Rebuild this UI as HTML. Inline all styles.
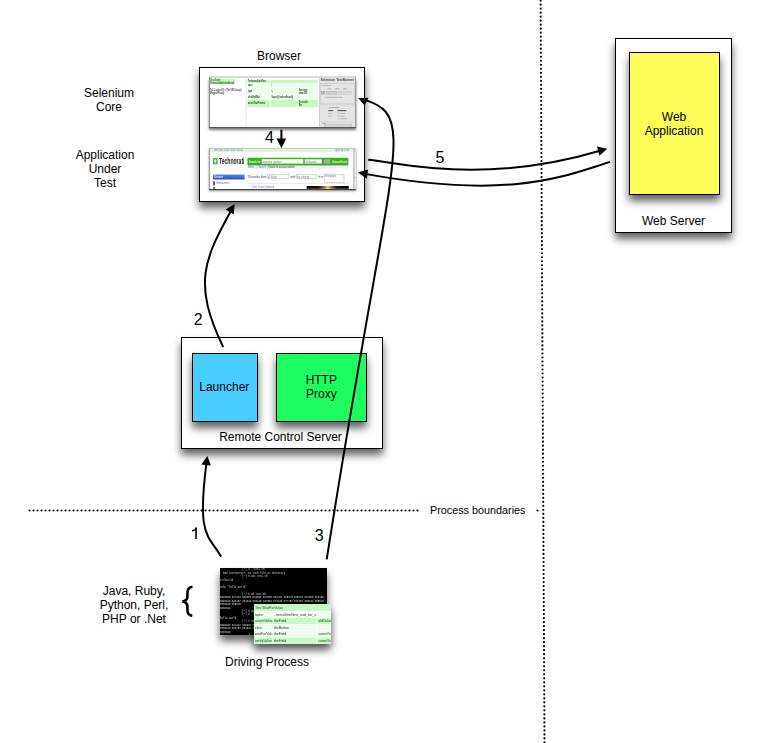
<!DOCTYPE html>
<html><head><meta charset="utf-8">
<style>
html,body{margin:0;padding:0;background:#fff;}
body{width:773px;height:743px;position:relative;overflow:hidden;font-family:"Liberation Sans",sans-serif;color:#000;}
.a{position:absolute;}
.box{position:absolute;box-sizing:border-box;border:1px solid #000;background:#fff;box-shadow:0 5.5px 8px rgba(0,0,0,0.62);}
.t{position:absolute;font-size:12px;line-height:14px;text-align:center;white-space:nowrap;}
.num{position:absolute;font-size:16px;line-height:16px;white-space:nowrap;}
.ss div{position:absolute;}
#tbl div{position:absolute;} #tbl div div{overflow:hidden;}
.tx{height:1.2px;background:#7a8a78;}
</style></head>
<body>

<!-- Browser -->
<div class="t" style="left:239px;top:49px;width:80px;">Browser</div>
<div class="box" style="left:199px;top:67px;width:166px;height:135px;"></div>

<!-- top screenshot: selenium core -->
<div class="a ss" id="ss1" style="left:209px;top:77.6px;width:147px;height:50.4px;background:#fff;box-shadow:0 1.5px 2.5px rgba(0,0,0,0.55);filter:blur(0.5px);">
<svg style="position:absolute;left:0;top:0;" width="147" height="50.4" viewBox="0 0 490 168" font-family="Liberation Sans, sans-serif">
<rect x="2.3" y="2.3" width="84.0" height="19.0" fill="#c8f8c0" />
<text x="4.0" y="10.0" font-size="9.0" font-weight="bold" fill="#2a4a20"  textLength="34" lengthAdjust="spacingAndGlyphs">Test Suite</text>
<text x="4.0" y="19.5" font-size="9.0" font-weight="bold" fill="#2a4a20"  textLength="80" lengthAdjust="spacingAndGlyphs">TechnoratiSiteLinksSearch</text>
<text x="2.5" y="42.0" font-size="9.0" font-weight="bold" fill="#444"  textLength="106" lengthAdjust="spacingAndGlyphs">TxC: Loglevel(1) = (The URL/Jscript)</text>
<text x="2.5" y="54.0" font-size="9.0" font-weight="bold" fill="#444"  textLength="48" lengthAdjust="spacingAndGlyphs">MagpieProxy</text>
<rect x="121.7" y="0.0" width="5.0" height="170.0" fill="#ececec" />
<rect x="128.0" y="6.3" width="234.7" height="10.4" fill="#c8f8c0" />
<text x="130.0" y="14.5" font-size="9.0" font-weight="bold" fill="#2a3a28"  textLength="59" lengthAdjust="spacingAndGlyphs">TechnoratiLinkTest</text>
<rect x="128.0" y="17.7" width="75.3" height="14.0" fill="#eefcee" />
<text x="130.0" y="27.7" font-size="9.0" font-weight="bold" fill="#2a3a28"  textLength="14" lengthAdjust="spacingAndGlyphs">open</text>
<rect x="206.0" y="17.7" width="89.0" height="14.0" fill="#eefcee" />
<text x="208.0" y="27.7" font-size="9.0" font-weight="bold" fill="#2a3a28"  textLength="2" lengthAdjust="spacingAndGlyphs">/</text>
<rect x="297.7" y="17.7" width="65.0" height="14.0" fill="#eefcee" />
<rect x="128.0" y="32.7" width="75.3" height="24.0" fill="#eefcee" />
<text x="130.0" y="47.7" font-size="9.0" font-weight="bold" fill="#2a3a28"  textLength="14" lengthAdjust="spacingAndGlyphs">type</text>
<rect x="206.0" y="32.7" width="89.0" height="24.0" fill="#eefcee" />
<text x="208.0" y="47.7" font-size="9.0" font-weight="bold" fill="#2a3a28"  textLength="3" lengthAdjust="spacingAndGlyphs">q</text>
<rect x="297.7" y="32.7" width="65.0" height="24.0" fill="#eefcee" />
<text x="299.7" y="41.7" font-size="9.0" font-weight="bold" fill="#2a3a28"  textLength="28" lengthAdjust="spacingAndGlyphs">Sun:name</text>
<text x="299.7" y="51.7" font-size="9.0" font-weight="bold" fill="#2a3a28"  textLength="28" lengthAdjust="spacingAndGlyphs">show:5X5</text>
<rect x="128.0" y="57.7" width="50.0" height="14.0" fill="#eefcee" />
<text x="130.0" y="67.7" font-size="9.0" font-weight="bold" fill="#2a3a28"  textLength="40" lengthAdjust="spacingAndGlyphs">clickAndWait</text>
<rect x="180.0" y="57.7" width="23.3" height="14.0" fill="#fff" />
<rect x="206.0" y="57.7" width="89.0" height="14.0" fill="#eefcee" />
<text x="208.0" y="67.7" font-size="9.0" font-weight="bold" fill="#2a3a28"  textLength="73" lengthAdjust="spacingAndGlyphs">//input[@value=Search]</text>
<rect x="297.7" y="57.7" width="65.0" height="14.0" fill="#eefcee" />
<rect x="128.0" y="72.7" width="75.3" height="24.6" fill="#c8f8c0" />
<text x="130.0" y="88.0" font-size="9.0" font-weight="bold" fill="#2a3a28"  textLength="57" lengthAdjust="spacingAndGlyphs">assertTextPresent</text>
<rect x="206.0" y="72.7" width="89.0" height="24.6" fill="#c8f8c0" />
<rect x="297.7" y="72.7" width="65.0" height="24.6" fill="#c8f8c0" />
<text x="299.7" y="81.7" font-size="9.0" font-weight="bold" fill="#2a3a28"  textLength="30" lengthAdjust="spacingAndGlyphs">Pro Israelis</text>
<text x="299.7" y="91.7" font-size="9.0" font-weight="bold" fill="#2a3a28"  textLength="10" lengthAdjust="spacingAndGlyphs">Bar</text>
<rect x="366.7" y="0.0" width="123.3" height="168.0" fill="#e4e4e4" />
<rect x="366.7" y="0.0" width="2.0" height="168.0" fill="#c4c4c4" />
<text x="372.0" y="11.0" font-size="11.0" font-weight="bold" fill="#444"  textLength="112" lengthAdjust="spacingAndGlyphs">Selenium TestRunner</text>
<rect x="371.0" y="19.0" width="114.0" height="67.0" fill="none" stroke="#bbb" stroke-width="1.5"/>
<rect x="376.0" y="24.0" width="30.0" height="2.5" fill="#aaa" />
<rect x="395.0" y="35.0" width="12.0" height="2.5" fill="#999" />
<rect x="420.0" y="35.0" width="14.0" height="2.5" fill="#999" />
<rect x="447.0" y="35.0" width="13.0" height="2.5" fill="#999" />
<rect x="374.0" y="44.0" width="12.0" height="10.0" fill="#bbb" stroke="#888" stroke-width="1"/>
<rect x="390.0" y="44.0" width="36.0" height="10.0" fill="#ccc" stroke="#999" stroke-width="1"/>
<rect x="430.0" y="44.0" width="45.0" height="10.0" fill="#d8d8d8" stroke="#bbb" stroke-width="1"/>
<rect x="385.0" y="63.0" width="60.0" height="2.5" fill="#aaa" />
<rect x="371.0" y="89.0" width="114.0" height="1.5" fill="#bbb" />
<rect x="398.0" y="97.0" width="36.0" height="2.5" fill="#999" />
<rect x="398.0" y="107.0" width="16.0" height="3.5" fill="#555" />
<rect x="428.0" y="107.0" width="30.0" height="3.5" fill="#555" />
<rect x="398.0" y="116.0" width="4.0" height="4.0" fill="#8c8" />
<rect x="404.0" y="117.0" width="6.0" height="2.5" fill="#aaa" />
<rect x="428.0" y="116.0" width="4.0" height="4.0" fill="#8c8" />
<rect x="434.0" y="117.0" width="20.0" height="2.5" fill="#aaa" />
<rect x="398.0" y="125.0" width="4.0" height="4.0" fill="#e88" />
<rect x="404.0" y="126.0" width="6.0" height="2.5" fill="#aaa" />
<rect x="428.0" y="125.0" width="4.0" height="4.0" fill="#e88" />
<rect x="434.0" y="126.0" width="18.0" height="2.5" fill="#aaa" />
<rect x="428.0" y="134.0" width="4.0" height="4.0" fill="#eb8" />
<rect x="434.0" y="135.0" width="26.0" height="2.5" fill="#aaa" />
<rect x="371.0" y="146.0" width="114.0" height="1.5" fill="#bbb" />
<rect x="376.0" y="150.0" width="14.0" height="2.5" fill="#aaa" />
<rect x="385.0" y="155.0" width="42.0" height="9.0" fill="#d4d4d4" stroke="#999" stroke-width="1"/>
<rect x="433.0" y="155.0" width="42.0" height="9.0" fill="#d4d4d4" stroke="#999" stroke-width="1"/>
</svg>
  <div style="left:0;top:-1.3px;width:147px;height:1.3px;background:#dadada;"></div>
  <div style="left:0;top:-1px;width:1px;height:52px;background:#8a8a8a;"></div>
  <div style="left:146px;top:-1px;width:1px;height:52px;background:#9a9a9a;"></div>
  <div style="left:0;top:49px;width:147px;height:1.5px;background:#555;"></div>
</div>

<!-- bottom screenshot: technorati -->
<div class="a ss" id="ss2" style="left:209px;top:148px;width:147px;height:42px;background:#fff;box-shadow:0 1px 2px rgba(0,0,0,0.5);filter:blur(0.45px);">
<svg style="position:absolute;left:0;top:0;" width="147" height="42" viewBox="0 0 147 42" font-family="Liberation Sans, sans-serif">
<defs><linearGradient id="gb" x1="0" y1="0" x2="0" y2="1"><stop offset="0" stop-color="#5a88e8"/><stop offset="1" stop-color="#2850c0"/></linearGradient><linearGradient id="gi" x1="0" y1="0" x2="1" y2="0"><stop offset="0" stop-color="#000"/><stop offset="0.28" stop-color="#1a1208"/><stop offset="0.42" stop-color="#a07030"/><stop offset="0.5" stop-color="#f0c890"/><stop offset="0.58" stop-color="#a07030"/><stop offset="0.72" stop-color="#1a1208"/><stop offset="1" stop-color="#000"/></linearGradient></defs>
<rect x="1.00" y="0.80" width="143.30" height="3.30" fill="#e2f4d8" />
<text x="5.00" y="3.30" font-size="2.70" font-weight="normal" fill="#5577d0" textLength="29.00" lengthAdjust="spacingAndGlyphs">Home &#183; Popular &#183; Discover &#183; Favorites &#183; WatchLists</text>
<text x="126.00" y="3.30" font-size="2.70" font-weight="normal" fill="#5577d0" textLength="14.00" lengthAdjust="spacingAndGlyphs">Sign up &#183; Sign in &#183; Help</text>
<rect x="4.00" y="10.00" width="4.60" height="6.30" fill="#3cb83c" rx="0.6"/>
<rect x="5.60" y="11.20" width="1.10" height="4.00" fill="#fff" />
<rect x="5.10" y="12.30" width="2.40" height="0.90" fill="#fff" />
<text x="10.00" y="16.30" font-size="8.60" font-weight="bold" fill="#1a1a1a" textLength="25.50" lengthAdjust="spacingAndGlyphs">Technorati</text>
<rect x="38.40" y="9.80" width="101.00" height="7.80" fill="#3aae1e" rx="1"/>
<text x="40.00" y="14.60" font-size="3.00" font-weight="bold" fill="#eaffea" textLength="11.50" lengthAdjust="spacingAndGlyphs">Search for</text>
<rect x="52.70" y="11.20" width="41.60" height="4.40" fill="#fff" />
<text x="53.60" y="14.50" font-size="3.00" font-weight="normal" fill="#777" textLength="19.00" lengthAdjust="spacingAndGlyphs">barcamp stanford</text>
<rect x="95.80" y="11.20" width="17.10" height="4.40" fill="#f6f6f6" stroke="#bbb" stroke-width="0.3"/>
<text x="96.50" y="14.50" font-size="2.80" font-weight="normal" fill="#777" textLength="11.00" lengthAdjust="spacingAndGlyphs">in blog posts</text>
<rect x="115.00" y="11.20" width="6.20" height="4.40" fill="#a8a8a8" />
<text x="123.30" y="14.60" font-size="3.00" font-weight="bold" fill="#e8ffe0" textLength="15.00" lengthAdjust="spacingAndGlyphs">Advanced Search</text>
<rect x="38.40" y="18.40" width="101.00" height="2.20" fill="#eeeeee" />
<text x="39.00" y="20.10" font-size="2.70" font-weight="normal" fill="#5577d0" textLength="6.00" lengthAdjust="spacingAndGlyphs">Home</text>
<text x="47.50" y="20.10" font-size="2.70" font-weight="normal" fill="#999" textLength="1.00" lengthAdjust="spacingAndGlyphs">|</text>
<text x="49.50" y="20.10" font-size="2.70" font-weight="normal" fill="#5577d0" textLength="7.50" lengthAdjust="spacingAndGlyphs">Search</text>
<text x="58.00" y="20.10" font-size="2.70" font-weight="normal" fill="#999" textLength="1.00" lengthAdjust="spacingAndGlyphs">|</text>
<text x="59.50" y="20.10" font-size="2.70" font-weight="normal" fill="#333" textLength="26.00" lengthAdjust="spacingAndGlyphs">Results for barcamp stanford</text>
<rect x="4.00" y="26.50" width="31.60" height="5.00" fill="url(#gb)" rx="0.5"/>
<text x="5.20" y="29.90" font-size="2.80" font-weight="bold" fill="#e0e8ff" textLength="9.00" lengthAdjust="spacingAndGlyphs">Discover</text>
<rect x="4.00" y="33.30" width="2.00" height="4.20" fill="#a03890" rx="0.5"/>
<text x="7.50" y="36.30" font-size="2.70" font-weight="normal" fill="#4a66c8" textLength="13.00" lengthAdjust="spacingAndGlyphs">Entertainment</text>
<rect x="4.00" y="39.00" width="2.00" height="2.00" fill="#4a4" />
<text x="38.40" y="30.20" font-size="3.40" font-weight="normal" fill="#333" textLength="19.00" lengthAdjust="spacingAndGlyphs">70 results from</text>
<rect x="58.30" y="26.40" width="21.70" height="4.30" fill="#fff" stroke="#aaa" stroke-width="0.5"/>
<text x="59.00" y="29.60" font-size="2.70" font-weight="normal" fill="#777" textLength="9.00" lengthAdjust="spacingAndGlyphs">all blogs</text>
<text x="81.30" y="29.90" font-size="3.00" font-weight="normal" fill="#444" textLength="5.20" lengthAdjust="spacingAndGlyphs">with</text>
<rect x="87.20" y="26.40" width="20.50" height="4.30" fill="#fff" stroke="#aaa" stroke-width="0.5"/>
<text x="88.00" y="29.60" font-size="2.70" font-weight="normal" fill="#777" textLength="12.00" lengthAdjust="spacingAndGlyphs">any authority</text>
<circle cx="110.4" cy="28.5" r="1.1" fill="#5c5"/>
<text x="112.20" y="29.90" font-size="3.00" font-weight="normal" fill="#444" textLength="2.20" lengthAdjust="spacingAndGlyphs">in</text>
<rect x="115.20" y="26.20" width="19.80" height="8.20" fill="#fff" stroke="#aaa" stroke-width="0.5"/>
<text x="116.00" y="29.40" font-size="2.70" font-weight="normal" fill="#777" textLength="11.00" lengthAdjust="spacingAndGlyphs">all languages</text>
<rect x="38.40" y="35.00" width="101.00" height="0.60" fill="#dcdcdc" />
<rect x="41.00" y="37.00" width="2.20" height="2.20" fill="#fff" stroke="#ccc" stroke-width="0.3"/>
<text x="44.00" y="39.60" font-size="2.80" font-weight="normal" fill="#5577d0" textLength="21.00" lengthAdjust="spacingAndGlyphs">See 1 more Stanford</text>
<rect x="97.70" y="38.00" width="42.00" height="2.80" fill="url(#gi)" />
<rect x="144.30" y="0.80" width="2.20" height="40.00" fill="#d6d6d6" />
<rect x="144.30" y="0.80" width="0.40" height="40.00" fill="#a8a8a8" />
<rect x="144.80" y="1.20" width="1.60" height="2.50" fill="#bbb" />
<rect x="144.80" y="29.00" width="1.60" height="1.00" fill="#999" />
</svg>
  <div style="left:0;top:0;width:147px;height:0.8px;background:#c8c8c8;"></div>
  <div style="left:0;top:0;width:1px;height:42px;background:#a0a0a0;"></div>
  <div style="left:0;top:40.8px;width:147px;height:1.2px;background:#444;"></div>
</div>

<div class="t" style="left:69px;top:86px;width:80px;">Selenium<br>Core</div>
<div class="t" style="left:65px;top:148px;width:80px;">Application<br>Under<br>Test</div>

<!-- Web server -->
<div class="box" style="left:615px;top:38px;width:117px;height:195px;"></div>
<div class="box" style="left:629px;top:52px;width:91px;height:143px;background:#fdfd5a;"></div>
<div class="t" style="left:634px;top:110px;width:80px;">Web<br>Application</div>
<div class="t" style="left:633.5px;top:214px;width:80px;">Web Server</div>

<!-- Remote control server -->
<div class="box" style="left:181px;top:337px;width:202px;height:112px;"></div>
<div class="box" style="left:192px;top:353px;width:66px;height:69px;background:#48cefe;"></div>
<div class="box" style="left:276px;top:353px;width:91px;height:69px;background:#1efd5f;"></div>
<div class="t" style="left:184.3px;top:380px;width:80px;">Launcher</div>
<div class="t" style="left:281.3px;top:373px;width:80px;">HTTP<br>Proxy</div>
<div class="t" style="left:200.5px;top:430px;width:160px;">Remote Control Server</div>

<!-- Driving process -->
<div class="a" id="term" style="left:220px;top:568px;width:107px;height:67px;background:#000;box-shadow:0 5.5px 8px rgba(0,0,0,0.62);overflow:hidden;">
<pre style="position:absolute;left:0.4px;top:0px;margin:0;font-family:'Liberation Mono',monospace;font-size:10px;line-height:11.5px;font-weight:bold;color:#a4a4a4;transform:scale(0.247,0.3);transform-origin:0 0;filter:blur(1.4px);">               [~] $ ./test.sh
: bad interpreter: No such file or directory
               [~] $ cat test.sh
#!/bin/sh

echo "hello world"

               [~] $ od test.sh
0000000 021443 020057 064542 027556 064163 005015 005015 061545 064150
0000020 020157 064042 066145 067554 073440 071157 062154 005042 005015
0000040 005015
0000044
               [~] $ dos2unix test.sh
               [~] $ ./test.sh
hello world
               [~] $ od test.sh
0000000 021443 020057 064542 027556 064163 005012 061545 064150
0000020 020157 064042 066145 067554 073440 071157 062154 005042
0000040</pre>
<div style="position:absolute;left:28.5px;top:65.7px;width:1.5px;height:1.5px;background:#3c3;"></div>
</div>
<div class="a" id="tbl" style="left:254px;top:604px;width:77px;height:40px;background:#fff;box-shadow:0 5.5px 8px rgba(0,0,0,0.62);overflow:hidden;">
<div style="left:0;top:0;width:233.3px;height:121.2px;transform:scale(0.33);transform-origin:0 0;font-size:10.5px;color:#2a3a28;white-space:nowrap;overflow:hidden;filter:blur(1.1px);">
<div style="left:0.0px;top:0.0px;width:233.3px;height:21.2px;background:#c8fac8;line-height:21.2px;">&nbsp;Test WaitForValue</div>
<div style="left:0.0px;top:22.7px;width:55.5px;height:18.8px;background:#eefcee;line-height:18.8px;">&nbsp;open</div>
<div style="left:57.6px;top:22.7px;width:131.8px;height:18.8px;background:#f8fef8;line-height:18.8px;">&nbsp;../tests/html/test_wait_for_value.html</div>
<div style="left:191.8px;top:22.7px;width:41.5px;height:18.8px;background:#eefcee;line-height:18.8px;"></div>
<div style="left:0.0px;top:42.4px;width:55.5px;height:19.1px;background:#c8fac8;line-height:19.1px;">&nbsp;assertValue</div>
<div style="left:57.6px;top:42.4px;width:131.8px;height:19.1px;background:#c8fac8;line-height:19.1px;">&nbsp;theField</div>
<div style="left:191.8px;top:42.4px;width:41.5px;height:19.1px;background:#c8fac8;line-height:19.1px;">&nbsp;oldValue</div>
<div style="left:0.0px;top:62.7px;width:55.5px;height:17.6px;background:#eefcee;line-height:17.6px;">&nbsp;click</div>
<div style="left:57.6px;top:62.7px;width:131.8px;height:17.6px;background:#eefcee;line-height:17.6px;">&nbsp;theButton</div>
<div style="left:191.8px;top:62.7px;width:41.5px;height:17.6px;background:#eefcee;line-height:17.6px;"></div>
<div style="left:0.0px;top:81.5px;width:55.5px;height:19.1px;background:#eefcee;line-height:19.1px;">&nbsp;waitForValue</div>
<div style="left:57.6px;top:81.5px;width:131.8px;height:19.1px;background:#eefcee;line-height:19.1px;">&nbsp;theField</div>
<div style="left:191.8px;top:81.5px;width:41.5px;height:19.1px;background:#eefcee;line-height:19.1px;">&nbsp;someValue</div>
<div style="left:0.0px;top:101.8px;width:55.5px;height:19.4px;background:#c8fac8;line-height:19.4px;">&nbsp;verifyValue</div>
<div style="left:57.6px;top:101.8px;width:131.8px;height:19.4px;background:#c8fac8;line-height:19.4px;">&nbsp;theField</div>
<div style="left:191.8px;top:101.8px;width:41.5px;height:19.4px;background:#c8fac8;line-height:19.4px;">&nbsp;someValue</div>
</div>
</div>
<div class="t" style="left:94px;top:584px;width:80px;">Java, Ruby,<br>Python, Perl,<br>PHP or .Net</div>
<div class="t" style="left:207px;top:655px;width:120px;">Driving Process</div>

<div class="t" style="left:430px;top:503px;font-size:10.8px;text-align:left;">Process boundaries</div>

<div class="num" style="left:265px;top:130px;">4</div>
<div class="num" style="left:435.6px;top:149.7px;">5</div>
<div class="num" style="left:193.8px;top:312px;">2</div>
<div class="num" style="left:314.8px;top:528px;">3</div>

<svg class="a" style="left:0;top:0;" width="773" height="743" viewBox="0 0 773 743">
  <!-- dotted lines -->
  <g stroke="#000" stroke-width="2.2" stroke-linecap="round" fill="none">
    <path d="M 29.5 510.5 L 421.5 510.5" stroke-dasharray="0 4"/>
    <path d="M 537.5 510.5 L 541.5 510.5" stroke-dasharray="0 4"/>
    <path d="M 540.6 0.6 L 544.52 746" stroke-dasharray="0 4.01"/>
  </g>
  <!-- digit 1 -->
  <path d="M 196.05 527.6 L 196.05 538.9" stroke="#000" stroke-width="1.6" fill="none"/>
  <path d="M 196.6 527.9 C 195.6 529.6 194.2 530.4 192.2 530.9" stroke="#000" stroke-width="1.5" fill="none"/>
  <!-- brace -->
  <path d="M 192.5 586.8 C 188 587.5 187.4 590 187.4 593 L 187.4 596.5 C 187.4 599.5 186 601 182.4 601.5 C 186 602 187.4 603.5 187.4 606.5 L 187.4 610 C 187.4 613 188 615.2 192.3 615.9" fill="none" stroke="#000" stroke-width="2.6"/>
  <!-- arrows -->
<path fill="none" stroke="#000" stroke-width="2" d="M 326.70 559.40 C 391.88 143.75 419.24 116.80 363.51 99.40"/>
<path fill="#000" d="M 358.10 97.90 L 368.60 97.80 L 364.60 105.60 Z"/>
<path fill="none" stroke="#000" stroke-width="2" d="M 223.20 347.00 C 192.30 283.27 204.18 259.41 231.94 208.91"/>
<path fill="#000" d="M 234.65 203.90 L 225.60 209.40 L 233.80 214.60 Z"/>
<path fill="none" stroke="#000" stroke-width="2" d="M 221.20 556.70 C 208.11 534.03 196.73 538.28 206.66 461.46"/>
<path fill="#000" d="M 207.40 455.90 L 201.30 464.60 L 210.90 465.60 Z"/>
<path fill="none" stroke="#000" stroke-width="2" d="M 368.20 159.70 C 397.87 162.46 482.54 185.82 601.81 150.28"/>
<path fill="#000" d="M 607.20 148.70 L 597.00 146.60 L 599.50 155.70 Z"/>
<path fill="none" stroke="#000" stroke-width="2" d="M 610.10 161.90 C 566.15 175.23 512.92 200.86 363.70 173.64"/>
<path fill="#000" d="M 357.90 172.45 L 368.10 169.50 L 366.80 178.80 Z"/>
<path fill="none" stroke="#000" stroke-width="2" d="M 281.40 129.70 C 281.40 133.62 281.40 137.38 281.40 142.36"/>
<path fill="#000" d="M 281.40 148.30 L 276.60 138.40 L 286.20 138.40 Z"/>
</svg>
</body></html>
